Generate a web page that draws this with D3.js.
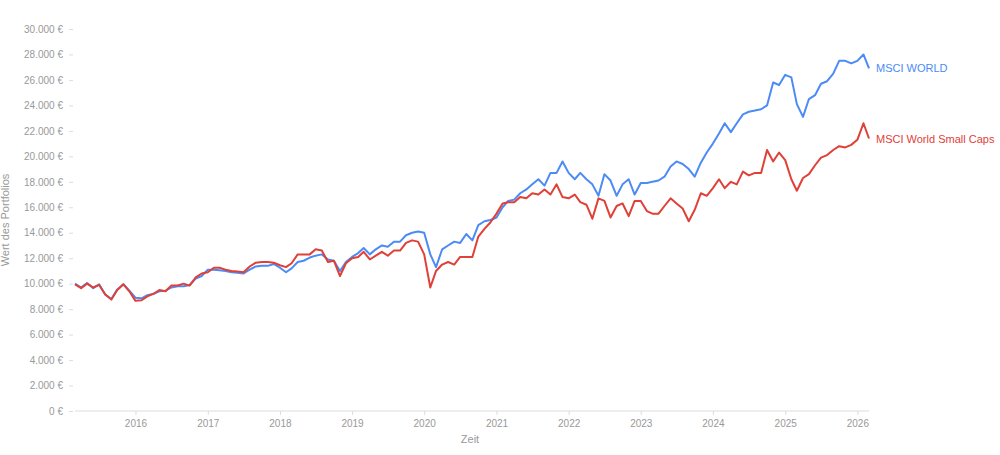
<!DOCTYPE html>
<html><head><meta charset="utf-8">
<script src="https://cdn.jsdelivr.net/npm/d3@7"></script>
<style>body{margin:0;background:#fff;font-family:"Helvetica Neue",Arial,"Liberation Sans",sans-serif}</style>
</head><body><svg id="c" width="1000" height="455"></svg>
<script>
const startMonth = "2015-03";
const seriesNames = ["MSCI WORLD", "MSCI World Small Caps"];
const world = [
 10000,9700,10050,9650,9950,9150,8800,9550,9950,9450,
 8900,8850,9100,9200,9400,9450,9700,9800,9800,9900,10400,10600,
 11100,11100,11050,11000,10900,10850,10800,11100,11350,11400,11400,11550,
 11250,10900,11200,11700,11800,12050,12200,12300,11900,11800,11000,11700,
 12100,12400,12800,12300,12700,13000,12900,13300,13300,13800,14000,14100,
 14000,12300,11300,12700,13000,13300,13200,13900,13400,14600,14900,15000,
 15200,16000,16500,16600,17100,17400,17800,18200,17700,18700,18700,19600,
 18700,18200,18700,18200,17800,16900,18600,18100,16900,17800,18200,17000,
 17900,17900,18000,18100,18400,19200,19600,19400,19000,18400,19500,20300,
 21000,21800,22600,21900,22600,23300,23500,23600,23700,24000,25800,25600,
 26400,26200,24100,23100,24500,24800,25700,25900,26500,27500,27500,27300,
 27500,28000,26900];
const smallCaps = [
 9950,9650,10000,9700,9900,9150,8750,9500,9950,9400,
 8650,8700,9000,9200,9500,9400,9850,9850,10000,9850,10500,10800,
 10900,11250,11250,11100,11000,10950,10900,11350,11650,11700,11700,11650,
 11450,11300,11600,12300,12300,12300,12700,12600,11700,11800,10600,11600,
 12000,12100,12500,11900,12200,12500,12200,12600,12600,13200,13400,13300,
 12300,9700,11000,11500,11700,11500,12100,12100,12100,13700,14300,14800,
 15500,16300,16400,16400,16800,16700,17100,17000,17400,17000,17800,16800,
 16700,17000,16400,16200,15100,16700,16500,15200,16100,16300,15300,16500,
 16500,15700,15500,15500,16100,16700,16300,15900,14900,15800,17100,16900,
 17500,18200,17500,18000,17800,18800,18500,18700,18700,20500,19600,20300,
 19700,18200,17300,18300,18600,19300,19900,20100,20500,20800,20700,20900,
 21300,22600,21400];
const yTicks = [0,2000,4000,6000,8000,10000,12000,14000,16000,18000,20000,22000,24000,26000,28000,30000];
const xTickYears = [2016,2017,2018,2019,2020,2021,2022,2023,2024,2025,2026];
const colors = ["#4c8bf5","#df4037"];

const svg = d3.select("#c");
const t0 = d3.timeParse("%Y-%m")(startMonth);
const dates = world.map((_,i)=>d3.timeMonth.offset(t0,i));
const x = d3.scaleTime().domain([dates[0],dates[dates.length-1]]).range([75,869]);
const y = d3.scaleLinear().domain([0,30000]).range([411,29]);
const gray="#999", fs="10px";
const fmt = v => d3.format(",")(v).replace(/,/g,".")+" €";

const ya = svg.append("g").attr("transform","translate(75,0)")
 .call(d3.axisLeft(y).tickValues(yTicks).tickFormat(fmt).tickSize(4).tickPadding(6));
ya.select(".domain").remove();
ya.selectAll("line").attr("stroke","#ddd").attr("transform","translate(-2,0)");
ya.selectAll("text").attr("fill",gray).style("font-size",fs).attr("dx","-2");

const xa = svg.append("g").attr("transform","translate(0,411)")
 .call(d3.axisBottom(x).tickValues(xTickYears.map(yr=>new Date(yr,0,1))).tickFormat(d3.timeFormat("%Y")).tickSize(4).tickPadding(5));
xa.select(".domain").attr("stroke","#ddd").attr("d","M75,0H869");
xa.selectAll("line").attr("stroke","#ddd");
xa.selectAll("text").attr("fill",gray).style("font-size",fs);

svg.append("text").attr("x",470).attr("y",443).attr("text-anchor","middle").attr("fill",gray).style("font-size","11px").text("Zeit");
svg.append("text").attr("transform","translate(9,220) rotate(-90)").attr("text-anchor","middle").attr("fill",gray).style("font-size","11px").text("Wert des Portfolios");

const line = d3.line().x((d,i)=>x(dates[i])).y(d=>y(d));
[world,smallCaps].forEach((s,k)=>{
 svg.append("path").datum(s).attr("d",line).attr("fill","none").attr("stroke",colors[k]).attr("stroke-width",2).attr("stroke-linejoin","round");
 svg.append("text").attr("x",x(dates[s.length-1])+7).attr("y",y(s[s.length-1])+4)
  .attr("fill",colors[k]).style("font-size","11px").text(seriesNames[k]);
});
</script></body></html>
